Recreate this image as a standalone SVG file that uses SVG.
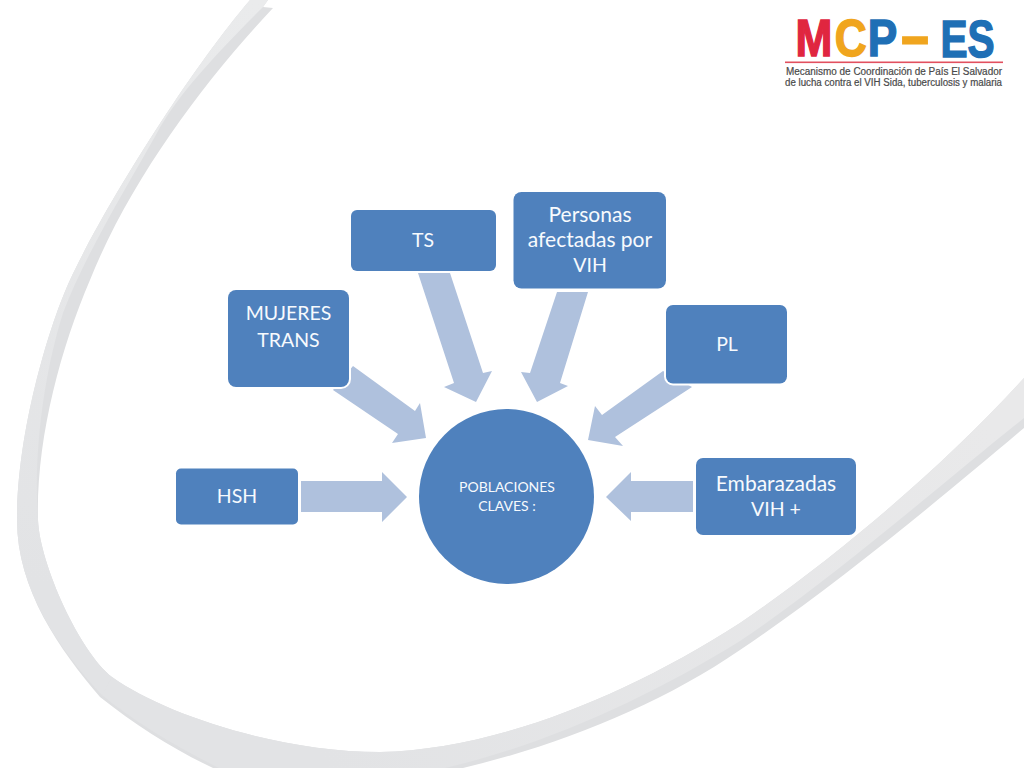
<svg xmlns="http://www.w3.org/2000/svg" width="1024" height="768" viewBox="0 0 1024 768">
<style>
.box{fill:#4f81bd;stroke:#fff;stroke-width:4;paint-order:stroke}
.arrow{fill:#afc1dd}
.lbl{font-family:"Lato","Carlito","Liberation Sans",sans-serif;fill:#f7fafd;text-anchor:middle;font-size:21px}
.caps{font-size:19.500px}
.small{font-size:14px}
.logo{font-family:"Liberation Sans",Arial,sans-serif;font-weight:700;font-size:52px;stroke-width:1.500px}
.sub{font-family:"Liberation Sans",Arial,sans-serif;font-size:10px;fill:#4a4a4a;stroke:#4a4a4a;stroke-width:.2px}
</style>
<defs>
<linearGradient id="sw" gradientUnits="userSpaceOnUse" x1="250" y1="0" x2="100" y2="600">
<stop offset="0" stop-color="#eaebec"/><stop offset="1" stop-color="#e2e3e5"/>
</linearGradient>
<linearGradient id="sw2" gradientUnits="userSpaceOnUse" x1="300" y1="700" x2="1000" y2="450">
<stop offset="0" stop-color="#e2e3e5"/><stop offset="1" stop-color="#e9e9ea"/>
</linearGradient>
</defs>
<rect width="1024" height="768" fill="#fff"/>
<g id="swoosh">
<path fill="#dedfe1" d="M250,0 C190,70 105,205 70,280 C50,323 17,430 17,520 C17,590 60,650 100,697 C135,725 175,750 213,768 L463,768 C560,745 660,705 740,650 C830,590 945,495 1024,428 L1024,378 C950,460 840,555 740,623 C620,700 490,750 380,752 C280,752 165,715 112,677 C80,652 40,565 38,520 C36,440 60,350 90,280 C130,180 205,80 273,8 L263,7 L268,0 Z"/>
<path fill="url(#sw)" d="M250,0 C190,70 105,205 70,280 C50,323 17,430 17,520 C17,590 60,650 102,695 L112,677 C80,652 40,565 38,520 C33,450 45,370 63,313 C85,255 125,190 157,133 C175,100 205,65 263,7 L268,0 Z"/>
<path fill="url(#sw2)" d="M102,695 C135,722 175,746 219,768 L445,768 C545,745 650,697 740,641 C830,581 945,481 1024,418 L1024,378 C950,460 840,555 740,623 C620,700 490,750 380,752 C280,752 165,715 112,677 Z"/>
</g>
<g id="logo">
<text class="logo" transform="scale(.85 1)" y="56.500"><tspan x="936" fill="#e0263f" stroke="#e0263f">M</tspan><tspan x="982" fill="#f0a51e" stroke="#f0a51e">C</tspan><tspan x="1021" fill="#1f6fb5" stroke="#1f6fb5">P</tspan></text>
<text class="logo" transform="translate(902 54) scale(.9 1)" fill="#f0a51e" stroke="#f0a51e" style="stroke-width:3px">–</text>
<text class="logo" transform="translate(940.500 56.500) scale(.78 1)" fill="#1f6fb5" stroke="#1f6fb5">ES</text>
<rect x="785" y="61.500" width="218" height="1.600" fill="#e2505f"/>
<text class="sub" x="786" y="75" textLength="216" lengthAdjust="spacingAndGlyphs">Mecanismo de Coordinación de País El Salvador</text>
<text class="sub" x="785" y="85.500" textLength="217" lengthAdjust="spacingAndGlyphs">de lucha contra el VIH Sida, tuberculosis y malaria</text>
</g>
<g id="connectors">
<polygon class="arrow" points="301,481 382,481 382,472 407,497 382,522 382,512 301,512"/>
<polygon class="arrow" points="353,366 415,411 420,403 426,438 392,443 398,434 333,390"/>
<polygon class="arrow" points="418,273 450,273 483,373 492,371 476,402 444,387 454,383"/>
<polygon class="arrow" points="557,292 588,292 560,383 568,386 537,402 521,372 530,373"/>
<polygon class="arrow" points="663,371 692,387 615,437 623,446 588,440 595,406 602,415"/>
<polygon class="arrow" points="693,481 631,481 631,472 606,497 631,521 631,512 693,512"/>
</g>
<g id="node-center">
<circle cx="506.5" cy="496.5" r="87.5" fill="#4f81bd"/>
<text class="lbl small" x="507" y="492">POBLACIONES</text>
<text class="lbl small" x="507" y="511">CLAVES :</text>
</g>
<g id="node-hsh">
<rect class="box" x="176" y="468.500" width="122" height="56" rx="5"/>
<text class="lbl caps" x="237" y="503">HSH</text>
</g>
<g id="node-mujeres">
<rect class="box" x="228" y="290" width="121" height="97" rx="8"/>
<text class="lbl caps" x="288.500" y="320">MUJERES</text>
<text class="lbl caps" x="288.500" y="347">TRANS</text>
</g>
<g id="node-ts">
<rect class="box" x="351" y="210" width="145" height="61" rx="6"/>
<text class="lbl caps" x="423" y="247">TS</text>
</g>
<g id="node-personas">
<rect class="box" x="513.500" y="192" width="152.500" height="96.500" rx="8"/>
<text class="lbl" x="590" y="222">Personas</text>
<text class="lbl" x="590" y="247">afectadas por</text>
<text class="lbl caps" x="590" y="272">VIH</text>
</g>
<g id="node-pl">
<rect class="box" x="666" y="305" width="121" height="78.500" rx="7"/>
<text class="lbl caps" x="727" y="351">PL</text>
</g>
<g id="node-embarazadas">
<rect class="box" x="696" y="458" width="160" height="77" rx="7"/>
<text class="lbl" x="776" y="491">Embarazadas</text>
<text class="lbl caps" x="776" y="516">VIH +</text>
</g>
</svg>
